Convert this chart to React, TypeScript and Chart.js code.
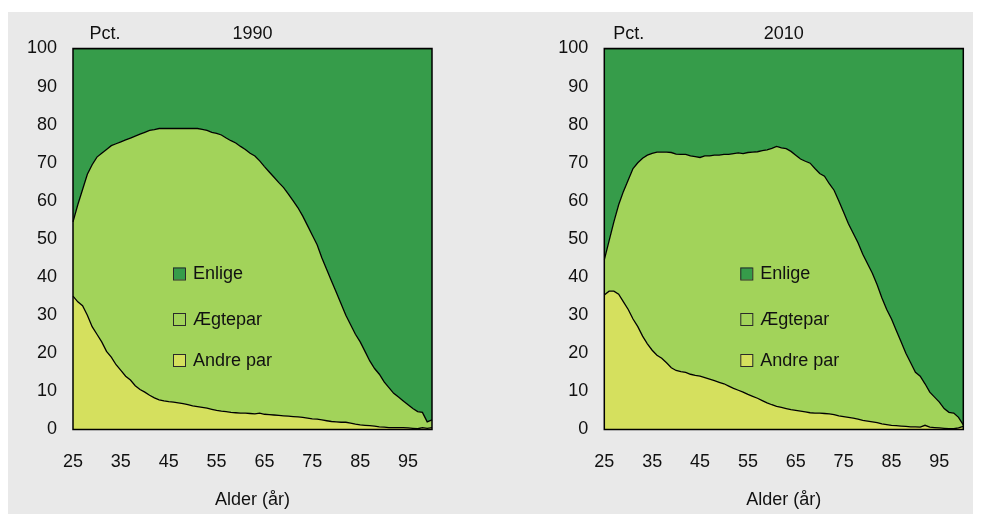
import React, { useEffect, useRef } from "react";
import { Chart, registerables } from "chart.js";

Chart.register(...registerables);

const ages: number[] = Array.from({ length: 76 }, (_, i) => 25 + i);
const xTickLabels = ["25", "35", "45", "55", "65", "75", "85", "95"];
const yTicks = [0, 10, 20, 30, 40, 50, 60, 70, 80, 90, 100];

const seriesNames = ["Andre par", "Ægtepar", "Enlige"];
const seriesColors = ["#d5e05e", "#a2d35a", "#369c4a"];

// 1990
const andrePar1990 = [
  35, 33.5, 32.5, 30, 27, 25, 23, 20.5, 19, 17, 15.5, 14, 13, 11.5, 10.5, 9.8, 9, 8.3, 7.8, 7.5,
  7.3, 7.2, 7, 6.8, 6.5, 6.2, 6, 5.8, 5.6, 5.3, 5, 4.8, 4.7, 4.5, 4.4, 4.3, 4.3, 4.2, 4.1, 4.3,
  4, 3.9, 3.8, 3.7, 3.6, 3.5, 3.4, 3.3, 3.2, 3, 2.8, 2.7, 2.5, 2.3, 2.1, 2, 1.9, 1.9, 1.7, 1.4,
  1.2, 1.1, 1, 0.9, 0.7, 0.6, 0.5, 0.5, 0.5, 0.5, 0.4, 0.3, 0.2, 0.5, 0.3, 0.5,
];
const aegtepar1990 = [
  19.5, 25.5, 30.5, 37, 42.5, 46.5, 49.5, 53, 55.5, 58, 60, 62, 63.5, 65.5, 67, 68.2, 69.5, 70.4, 71.2, 71.5,
  71.7, 71.8, 72, 72.2, 72.5, 72.8, 73, 73, 72.9, 72.7, 72.7, 72.5, 71.8, 71.3, 70.8, 70, 69.2, 68.3, 67.7, 66.2,
  65, 63.7, 62.4, 61.1, 59.9, 58.3, 56.6, 54.9, 52.8, 50.5, 48.2, 45.8, 42.5, 39.7, 36.9, 34, 31.1, 28.1, 25.8, 23.6,
  21.8, 19.4, 17, 15.1, 13.8, 11.9, 10.5, 9, 8, 7, 6.1, 5.2, 4.5, 4, 1.7, 2,
];
const enlige1990 = [
  45.5, 41, 37, 33, 30.5, 28.5, 27.5, 26.5, 25.5, 25, 24.5, 24, 23.5, 23, 22.5, 22, 21.5, 21.3, 21, 21,
  21, 21, 21, 21, 21, 21, 21, 21.2, 21.5, 22, 22.3, 22.7, 23.5, 24.2, 24.8, 25.7, 26.5, 27.5, 28.2, 29.5,
  31, 32.4, 33.8, 35.2, 36.5, 38.2, 40, 41.8, 44, 46.5, 49, 51.5, 55, 58, 61, 64, 67, 70, 72.5, 75,
  77, 79.5, 82, 84, 85.5, 87.5, 89, 90.5, 91.5, 92.5, 93.5, 94.5, 95.3, 95.5, 98, 97.5,
];

// 2010
const andrePar2010 = [
  35.3, 36.3, 36.3, 35.5, 33.5, 31.5, 29, 27, 24.5, 22.5, 20.8, 19.5, 18.7, 17.5, 16.2, 15.5, 15.2, 15, 14.5, 14.2,
  14, 13.6, 13.2, 12.8, 12.4, 12, 11.4, 10.8, 10.3, 9.8, 9.2, 8.7, 8.2, 7.6, 7, 6.5, 6.1, 5.8, 5.5, 5.2,
  5, 4.8, 4.6, 4.4, 4.3, 4.3, 4.2, 4.1, 3.9, 3.6, 3.4, 3.2, 3, 2.7, 2.4, 2.2, 2, 1.8, 1.5, 1.3,
  1.1, 1, 0.9, 0.8, 0.7, 0.7, 0.6, 1.1, 0.6, 0.5, 0.4, 0.3, 0.2, 0.2, 0.4, 0.8,
];
const aegtepar2010 = [
  9.2, 13.2, 18.2, 23.5, 29, 34, 39.5, 43, 46.7, 49.5, 51.7, 53.3, 54.1, 55.3, 56.5, 56.8, 57, 57.2, 57.3, 57.4,
  57.4, 58.2, 58.6, 59.2, 59.6, 60.2, 60.8, 61.6, 62.3, 62.6, 63.5, 64.1, 64.7, 65.6, 66.4, 67.3, 68.2, 68.1, 68.2, 67.8,
  67, 66.2, 65.8, 65.5, 64.2, 62.9, 62.3, 60.4, 58.9, 56.4, 53.6, 50.8, 48.5, 46.3, 43.6, 41.3, 39, 36.2, 33, 30.2,
  27.9, 25, 22.1, 19.2, 16.8, 14.3, 13.4, 10.9, 9.2, 8, 6.8, 5.2, 4.3, 4.1, 2.8, 0.4,
];
const enlige2010 = [
  55.5, 50.5, 45.5, 41, 37.5, 34.5, 31.5, 30, 28.8, 28, 27.5, 27.2, 27.2, 27.2, 27.3, 27.7, 27.8, 27.8, 28.2, 28.4,
  28.6, 28.2, 28.2, 28, 28, 27.8, 27.8, 27.6, 27.4, 27.6, 27.3, 27.2, 27.1, 26.8, 26.6, 26.2, 25.7, 26.1, 26.3, 27,
  28, 29, 29.6, 30.1, 31.5, 32.8, 33.5, 35.5, 37.2, 40, 43, 46, 48.5, 51, 54, 56.5, 59, 62, 65.5, 68.5,
  71, 74, 77, 80, 82.5, 85, 86, 88, 90.2, 91.5, 92.8, 94.5, 95.5, 95.7, 96.8, 98.8,
];

const FONT = "'Liberation Sans', Arial, sans-serif";
const TEXT = "#111111";

type PanelCfg = {
  title: string;
  series: number[][];
  padLeft: number;
  padRight: number;
  pctOffset: number;
  legendOffset: number;
};

function makeChart(canvas: HTMLCanvasElement, cfg: PanelCfg) {
  const overlay = {
    id: "overlay",
    afterDatasetsDraw(chart: any) {
      const ctx = chart.ctx as CanvasRenderingContext2D;
      const a = chart.chartArea;
      ctx.save();
      // frame
      ctx.strokeStyle = "#000";
      ctx.lineWidth = 1.5;
      ctx.strokeRect(a.left, a.top, a.right - a.left, a.bottom - a.top);
      // legend
      const rows = [2, 1, 0];
      const ys = [225, 270.5, 311.5];
      ctx.font = `18px ${FONT}`;
      ctx.textBaseline = "middle";
      ctx.textAlign = "left";
      rows.forEach((di, k) => {
        const x = a.left + cfg.legendOffset;
        const y = a.top + ys[k];
        ctx.fillStyle = seriesColors[di];
        ctx.fillRect(x, y - 6, 12, 12);
        ctx.strokeStyle = "#2a2a2a";
        ctx.lineWidth = 1;
        ctx.strokeRect(x + 0.5, y - 5.5, 12, 12);
        ctx.fillStyle = TEXT;
        ctx.fillText(chart.data.datasets[di].label, x + 20, y + 1);
      });
      // titles
      ctx.textBaseline = "alphabetic";
      ctx.fillStyle = TEXT;
      ctx.textAlign = "left";
      ctx.fillText("Pct.", a.left + cfg.pctOffset, a.top - 10);
      ctx.textAlign = "center";
      ctx.fillText(cfg.title, (a.left + a.right) / 2, a.top - 10);
      ctx.textBaseline = "middle";
      ctx.fillText("Alder (år)", (a.left + a.right) / 2, a.bottom + 71);
      ctx.restore();
    },
  };

  return new Chart(canvas, {
    type: "line",
    data: {
      labels: ages.map(String),
      datasets: cfg.series.map((d, i) => ({
        label: seriesNames[i],
        data: d,
        backgroundColor: seriesColors[i],
        borderColor: "#000",
        borderWidth: 1.3,
        pointRadius: 0,
        tension: 0,
        fill: i === 0 ? "origin" : "-1",
      })),
    },
    options: {
      animation: false,
      responsive: false,
      layout: { padding: { left: cfg.padLeft, right: cfg.padRight, top: 36.5, bottom: 0 } },
      plugins: { legend: { display: false }, title: { display: false }, tooltip: { enabled: false } },
      scales: {
        x: {
          type: "category",
          offset: false,
          grid: { display: false, drawTicks: false },
          border: { display: false },
          afterFit: (s: any) => {
            s.height = 84.5;
          },
          ticks: {
            autoSkip: false,
            maxRotation: 0,
            padding: 0,
            color: TEXT,
            font: { family: FONT, size: 18, lineHeight: 1.2 },
            callback: (_v: any, i: number) => {
              const lab = String(ages[i]);
              return xTickLabels.includes(lab) ? ["", lab] : "";
            },
          },
        },
        y: {
          stacked: true,
          min: 0,
          max: 100,
          grid: { display: false, drawTicks: false },
          border: { display: false },
          afterFit: (s: any) => {
            s.width = 65;
          },
          afterBuildTicks: (s: any) => {
            s.ticks = yTicks.map((v) => ({ value: v }));
          },
          ticks: {
            padding: 16,
            color: TEXT,
            font: { family: FONT, size: 18 },
          },
        },
      },
    },
    plugins: [overlay],
  } as any);
}

function Panel({ cfg, left }: { cfg: PanelCfg; left: number }) {
  const ref = useRef<HTMLCanvasElement | null>(null);
  useEffect(() => {
    if (!ref.current) return;
    const ch = makeChart(ref.current, cfg);
    return () => ch.destroy();
  }, []);
  return (
    <canvas
      ref={ref}
      width={482}
      height={502}
      style={{ position: "absolute", left, top: 4, width: 482, height: 502 }}
    />
  );
}

export default function App() {
  const p1: PanelCfg = {
    title: "1990",
    series: [andrePar1990, aegtepar1990, enlige1990],
    padLeft: 0,
    padRight: 58,
    pctOffset: 16.5,
    legendOffset: 100,
  };
  const p2: PanelCfg = {
    title: "2010",
    series: [andrePar2010, aegtepar2010, enlige2010],
    padLeft: 49.3,
    padRight: 8.7,
    pctOffset: 9,
    legendOffset: 136,
  };
  return (
    <div style={{ position: "relative", width: 973, height: 506 }}>
      <div style={{ position: "absolute", left: 0, top: 4, width: 973, height: 502, background: "#e9e9e9" }} />
      <Panel cfg={p1} left={0} />
      <Panel cfg={p2} left={482} />
    </div>
  );
}
